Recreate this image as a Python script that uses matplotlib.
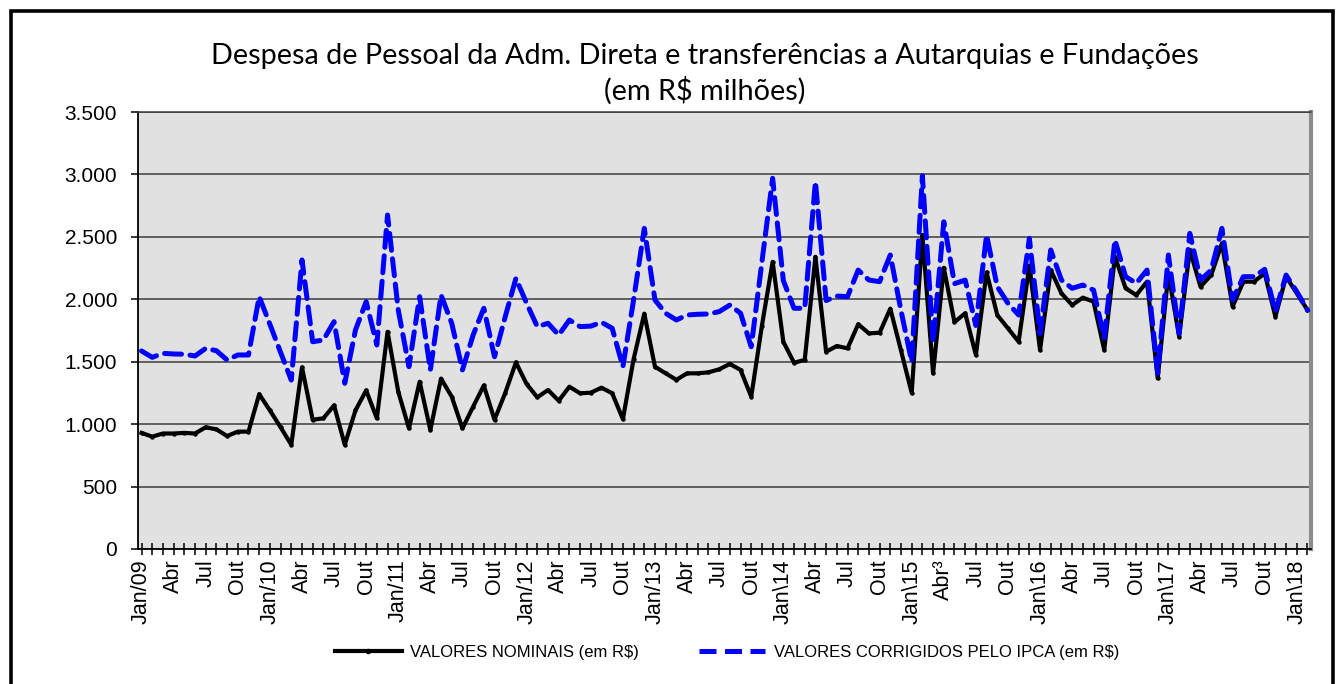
import matplotlib
matplotlib.use("Agg")
import matplotlib.pyplot as plt
from matplotlib.lines import Line2D
from matplotlib.patches import Rectangle
from matplotlib.ticker import FuncFormatter, MultipleLocator

# ---- data (R$ milhões), monthly Jan/2009 .. Feb/2018 ----
nominal = [930, 900, 925, 925, 930, 925, 975, 958, 905, 940, 940, 1240,
           1110, 975, 835, 1455, 1035, 1047, 1150, 835, 1110, 1270, 1047, 1740,
           1260, 966, 1340, 953, 1365, 1220, 966, 1140, 1310, 1035, 1250, 1495,
           1321, 1215, 1273, 1188, 1300, 1247, 1252, 1292, 1247, 1040, 1520, 1885,
           1460, 1407, 1355, 1407, 1407, 1415, 1439, 1482, 1434, 1220, 1790, 2300,
           1660, 1492, 1514, 2340, 1580, 1626, 1607, 1800, 1727, 1732, 1925, 1590,
           1250, 2515, 1407, 2252, 1817, 1888, 1554, 2215, 1874, 1767, 1660, 2270,
           1594, 2234, 2048, 1954, 2013, 1981, 1594, 2341, 2088, 2034, 2141, 1367,
           2208, 1701, 2395, 2101, 2194, 2448, 1941, 2141, 2141, 2208, 1861, 2181,
           2048, 1914]

corrigido = [1586, 1535, 1567, 1562, 1560, 1546, 1607, 1588, 1514, 1554, 1554, 2021,
             1800, 1575, 1353, 2315, 1660, 1674, 1821, 1327, 1754, 1981, 1634, 2675,
             1914, 1460, 2021, 1434, 2034, 1808, 1434, 1714, 1928, 1540, 1860, 2168,
             1968, 1781, 1808, 1714, 1834, 1781, 1785, 1816, 1768, 1460, 1994, 2568,
             1994, 1888, 1834, 1874, 1880, 1882, 1901, 1954, 1888, 1620, 2300, 2969,
             2150, 1928, 1928, 2942, 1990, 2026, 2021, 2234, 2154, 2141, 2355, 1910,
             1500, 2990, 1655, 2621, 2125, 2154, 1790, 2515, 2101, 1968, 1874, 2488,
             1727, 2395, 2154, 2088, 2114, 2074, 1690, 2475, 2181, 2128, 2234, 1407,
             2355, 1727, 2528, 2154, 2234, 2568, 1994, 2181, 2181, 2240, 1901, 2194,
             2061, 1914]

tick_labels = ["Jan/09", "Abr", "Jul", "Out",
               "Jan/10", "Abr", "Jul", "Out",
               "Jan/11", "Abr", "Jul", "Out",
               "Jan/12", "Abr", "Jul", "Out",
               "Jan/13", "Abr", "Jul", "Out",
               "Jan\\14", "Abr", "Jul", "Out",
               "Jan\\15", "Abr³", "Jul", "Out",
               "Jan\\16", "Abr", "Jul", "Out",
               "Jan\\17", "Abr", "Jul", "Out",
               "Jan\\18"]

serie_labels = ["VALORES NOMINAIS (em R$)", "VALORES CORRIGIDOS PELO IPCA (em R$)"]
title = "Despesa de Pessoal da Adm. Direta e transferências a Autarquias e Fundações\n(em R$ milhões)"

plt.rcParams['font.family'] = ['Liberation Sans', 'DejaVu Sans']

W, H = 1342, 684
fig = plt.figure(figsize=(W / 100, H / 100), dpi=100)
fig.patch.set_facecolor("white")

# outer frame
fig.patches.append(Rectangle((11 / W, -0.02), (1333 - 11) / W, 1.02 - 11 / H,
                             transform=fig.transFigure, fill=False,
                             edgecolor="black", linewidth=2.6))

L, R, T, B = 138, 1311, 112, 549
ax = fig.add_axes([L / W, 1 - B / H, (R - L) / W, (B - T) / H])
ax.set_facecolor("#E1E1E1")

x = list(range(len(nominal)))
ax.plot(x, nominal, color="black", lw=3.0, marker="o", ms=2.2,
        solid_joinstyle="round", zorder=3)
ax.plot(x, corrigido, color="#0000FF", lw=3.6, dashes=(3.4, 1.7),
        dash_capstyle="round", zorder=4)

ax.set_xlim(-0.33, 109.33)
ax.set_ylim(0, 3500)

ax.yaxis.set_major_locator(MultipleLocator(500))
ax.yaxis.set_major_formatter(FuncFormatter(lambda v, p: f"{int(v):,}".replace(",", ".")))
ax.grid(axis="y", color="#3C3C3C", lw=1.1)
ax.set_axisbelow(True)

ax.set_xticks(range(0, 3 * len(tick_labels), 3))
ax.set_xticklabels(tick_labels, rotation=90, fontsize=15.5)
ax.set_xticks(range(len(nominal)), minor=True)
ax.tick_params(axis="x", which="both", direction="inout", length=9, width=1.1, pad=3)
ax.tick_params(axis="y", direction="out", length=5, width=1.1, labelsize=15, pad=10)

for s in ["left", "bottom"]:
    ax.spines[s].set_color("black")
    ax.spines[s].set_linewidth(1.3)
ax.spines["right"].set_color("#8C8C8C")
ax.spines["right"].set_linewidth(3)
ax.spines["top"].set_color("#3C3C3C")
ax.spines["top"].set_linewidth(1.1)

fig.text(705 / W, 1 - 74 / H, title, ha="center", va="center", fontsize=20.8,
         family=["Lato", "DejaVu Sans"], linespacing=1.32)

h0 = Line2D([0, 0.5, 1], [0, 0, 0], color="black", lw=3.0, marker="o", ms=3, markevery=[1])
h1 = Line2D([], [], color="#0000FF", lw=3.6, dashes=(3.4, 1.7))
fig.legend([h0, h1], serie_labels, loc="center",
           bbox_to_anchor=(727 / W, 1 - 652 / H), ncol=2, frameon=False,
           fontsize=12, handlelength=4.0, columnspacing=3.6, handletextpad=0.5)

fig.savefig("out.png", dpi=100, facecolor="white")
